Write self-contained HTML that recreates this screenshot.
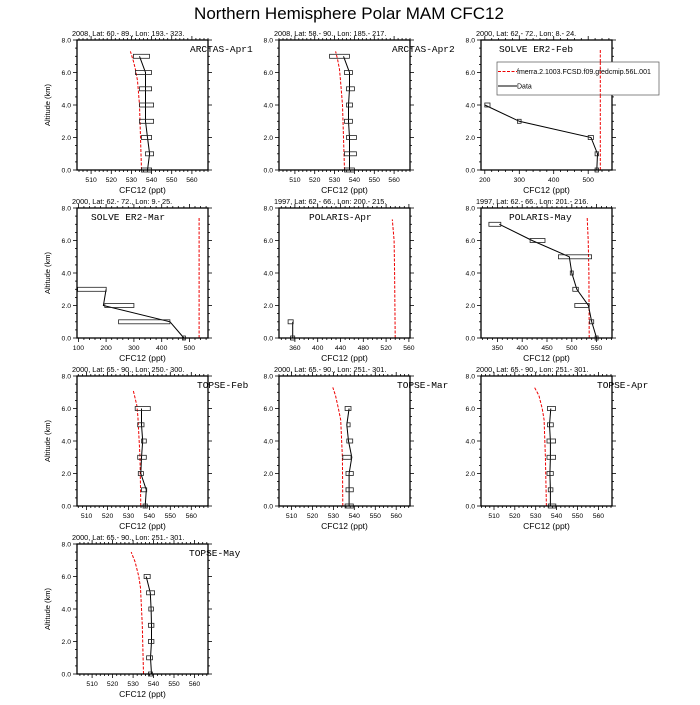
<!DOCTYPE html>
<html><head><meta charset="utf-8"><style>
html,body{margin:0;padding:0;background:#fff;}
svg text{font-family:"Liberation Sans",sans-serif;}
</style></head><body>
<svg id="s" width="700" height="700" xmlns="http://www.w3.org/2000/svg"></svg>
<script>
var S=document.getElementById('s');var out='';
out+='<text x="349" y="19" font-size="17" text-anchor="middle">Northern Hemisphere Polar MAM CFC12</text>';
var cols=[77,279,481],rows=[40,208,376,544],W=131,H=130;
var P=[
{sub:"2008, Lat:  60.- 89., Lon: 193.- 323.",lab:"ARCTAS-Apr1",lx:190,x0:503,x1:568,t0:510,t1:560,ts:10,ms:2,
 mod:[[535,0],[534.5,2],[534,4],[533,5.5],[532,6.2],[531,6.7],[529.5,7.3]],
 d:[[538,0,535,540],[539,1,537,541],[538,2,535,540],[537,3,534,541],[537,4,534,541],[537,5,534,540],[537,6,532,540],[534,7,531,539]]},
{sub:"2008, Lat:  58.- 90., Lon: 185.- 217.",lab:"ARCTAS-Apr2",lx:392,x0:502,x1:568,t0:510,t1:560,ts:10,ms:2,
 mod:[[535,0],[534.5,2],[534,4],[533,5.5],[532.5,6.2],[531.5,6.8],[530.5,7.3]],
 d:[[537.5,0,535,540],[537.5,1,535,541],[537.5,2,536,541],[537,3,535,539],[537,4,536,539],[537.5,5,536,540],[537.5,6,535,539],[534.5,7,527.5,537.5]]},
{sub:"2000, Lat: 62.- 72., Lon: 8.- 24.",lab:"SOLVE ER2-Feb",lx:499,x0:189,x1:569,t0:200,t1:500,ts:100,ms:20,
 mod:[[535,0],[535,7.4]],
 d:[[525,0,520,530],[527,1,520,530],[508,2,500,515],[300,3,299,301],[200,4,200,215]],legend:true},
{sub:"2000, Lat: 62.- 72., Lon: 9.- 25.",lab:"SOLVE ER2-Mar",lx:91,x0:95,x1:567,t0:100,t1:500,ts:100,ms:20,
 mod:[[535,0],[535,7.4]],
 d:[[480,0,480,480],[430,1,245,430],[190,2,195,300],[200,3,97,200]]},
{sub:"1997, Lat: 62.- 66., Lon: 200.- 215.",lab:"POLARIS-Apr",lx:309,x0:332,x1:562,t0:360,t1:560,ts:40,ms:8,
 mod:[[536,0],[535,4],[534,6],[531,7.3]],
 d:[[356,0,355,357],[356,1,348,357]]},
{sub:"1997, Lat: 62.- 66., Lon: 201.- 216.",lab:"POLARIS-May",lx:509,x0:317,x1:581,t0:350,t1:550,ts:50,ms:10,
 mod:[[535,0],[534.5,4],[533,6],[531,7.4]],
 d:[[550,0,550,550],[540,1,536,544],[533.5,2,506,535],[510,3,502,513],[500,4,500,500],[495,5,473,540],[420,6,416,446],[354,7,333,357]]},
{sub:"2000, Lat: 65.- 90., Lon: 250.- 300.",lab:"TOPSE-Feb",lx:197,x0:505.4,x1:568,t0:510,t1:560,ts:10,ms:2,
 mod:[[535.9,0],[535.5,3],[534.5,5.5],[534,6.2],[532.3,7.1]],
 d:[[538,0,537,539],[538.5,1,536.2,538.7],[535.9,2,535.4,536.4],[536.2,3,534.4,538.5],[536.8,4,536.2,538.5],[536.2,5,534.4,537.4],[536.2,6,533.2,540.4]]},
{sub:"2000, Lat: 65.- 90., Lon: 251.- 301.",lab:"TOPSE-Mar",lx:397,x0:504,x1:566.6,t0:510,t1:560,ts:10,ms:2,
 mod:[[534.5,0],[534.3,3],[533.5,5.3],[532.4,6],[531,6.8],[529.7,7.3]],
 d:[[537.5,0,535.6,539.5],[537.5,1,536,539.5],[537.5,2,536,539.5],[538.8,3,534.5,538.4],[537.2,4,536.4,539.2],[536.4,5,536.4,538],[537.5,6,535.6,538.4]]},
{sub:"2000, Lat: 65.- 90., Lon: 251.- 301.",lab:"TOPSE-Apr",lx:597,x0:503.8,x1:566.5,t0:510,t1:560,ts:10,ms:2,
 mod:[[535.1,0],[534.6,3],[534,5.3],[533.1,6],[531.5,6.8],[529.4,7.3]],
 d:[[537,0,536,539.6],[537,1,536,538.2],[536.8,2,535.4,538.4],[537,3,535.4,539.5],[537,4,535.4,539.5],[536.6,5,535.6,538.4],[537.2,6,535.6,539.5]]},
{sub:"2000, Lat: 65.- 90., Lon: 251.- 301.",lab:"TOPSE-May",lx:189,x0:502.6,x1:566.6,t0:510,t1:560,ts:10,ms:2,
 mod:[[535.1,0],[534.5,3],[533.6,5.3],[532.8,6],[531,6.9],[529.1,7.5]],
 d:[[539,0,537.5,539.5],[538.5,1,536.6,539.5],[539,2,537.5,540.2],[539,3,537.5,540.2],[538.8,4,538.4,539.2],[538.4,5,536.6,540.5],[536.4,6,535.4,538.4]]}
];
P.forEach(function(p,i){
 var L=cols[i%3],T=rows[Math.floor(i/3)],R=L+W,B=T+H;
 function X(v){return L+(v-p.x0)/(p.x1-p.x0)*W;}
 function Y(a){return B-a/8*H;}
 var g='';
 g+='<text x="'+(L-5)+'" y="'+(T-4)+'" font-size="7.3">'+p.sub+'</text>';
 for(var a=0;a<=8.001;a+=0.5){var y=Y(a).toFixed(1);var m=(Math.abs(a%2)<0.01);var l=m?4:2;
  g+='<line x1="'+(L-l)+'" y1="'+y+'" x2="'+L+'" y2="'+y+'" stroke="#000" stroke-width="0.8"/>';
  g+='<line x1="'+R+'" y1="'+y+'" x2="'+(R+l)+'" y2="'+y+'" stroke="#000" stroke-width="0.8"/>';
  if(m)g+='<text x="'+(L-6)+'" y="'+(Y(a)+2.4)+'" font-size="6.8" text-anchor="end">'+a.toFixed(1)+'</text>';}
 var st=Math.ceil(p.x0/p.ms)*p.ms;
 for(var v=st;v<=p.x1;v+=p.ms){var x=X(v).toFixed(1);var rel=(v-p.t0)/p.ts;var m=Math.abs(rel-Math.round(rel))<0.01;var l=m?4:2;
  g+='<line x1="'+x+'" y1="'+B+'" x2="'+x+'" y2="'+(B+l)+'" stroke="#000" stroke-width="0.8"/>';
  g+='<line x1="'+x+'" y1="'+(T-l)+'" x2="'+x+'" y2="'+T+'" stroke="#000" stroke-width="0.8"/>';
  if(m&&v>=p.t0-0.01&&v<=p.t1+0.01)g+='<text x="'+x+'" y="'+(B+12)+'" font-size="6.8" text-anchor="middle">'+Math.round(v)+'</text>';}
 g+='<text x="'+(L+W/2)+'" y="'+(B+23)+'" font-size="8.5" text-anchor="middle">CFC12 (ppt)</text>';
 if(i%3==0)g+='<text transform="translate('+(L-27)+','+(T+H/2)+') rotate(-90)" font-size="7.5" text-anchor="middle">Altitude (km)</text>';
 g+='<polyline fill="none" stroke="#e00" stroke-width="1" stroke-dasharray="3,1.5" points="'+p.mod.map(function(q){return X(q[0]).toFixed(1)+','+Y(q[1]).toFixed(1)}).join(' ')+'"/>';
 g+='<polyline fill="none" stroke="#000" stroke-width="1" points="'+p.d.map(function(q){return X(q[0]).toFixed(1)+','+Y(q[1]).toFixed(1)}).join(' ')+'"/>';
 p.d.forEach(function(q){var x1=X(q[2]),x2=X(q[3]);if(x2-x1<3){x1-=1.5;x2+=1.5;}
  g+='<rect x="'+x1.toFixed(1)+'" y="'+(Y(q[1])-2).toFixed(1)+'" width="'+(x2-x1).toFixed(1)+'" height="4" fill="none" stroke="#222" stroke-width="0.8"/>';});
 g+='<rect x="'+L+'" y="'+T+'" width="'+W+'" height="'+H+'" fill="none" stroke="#000" stroke-width="1.3"/>';
 g+='<text x="'+p.lx+'" y="'+(T+12)+'" font-size="9.5" style="font-family:\'Liberation Mono\',monospace">'+p.lab+'</text>';
 if(p.legend){
  g+='<rect x="497" y="62" width="162" height="33" fill="#fff" stroke="#555" stroke-width="0.7"/>';
  g+='<line x1="498" y1="71.5" x2="517" y2="71.5" stroke="#e00" stroke-dasharray="3,1.5"/>';
  g+='<text x="517" y="74" font-size="7">fmerra.2.1003.FCSD.f09.gfedcmip.56L.001</text>';
  g+='<line x1="498" y1="86" x2="517" y2="86" stroke="#000"/>';
  g+='<text x="517" y="88.5" font-size="7">Data</text>';
  g+='<polyline fill="none" stroke="#e00" stroke-width="1" stroke-dasharray="3,1.5" points="'+X(535).toFixed(1)+',62 '+X(535).toFixed(1)+',95"/>';
 }
 out+=g;
});
S.innerHTML=out;
</script>
</body></html>
